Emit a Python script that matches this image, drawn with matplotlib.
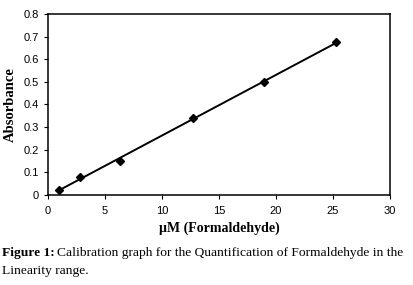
import matplotlib
matplotlib.use("Agg")
import matplotlib.pyplot as plt
import numpy as np

conc = [0.95, 2.85, 6.3, 12.7, 19.0, 25.3]
absorbance = [0.02, 0.08, 0.15, 0.34, 0.50, 0.675]
err = [0.008, 0.008, 0.008, 0.01, 0.01, 0.01]
xticks = [0, 5, 10, 15, 20, 25, 30]
yticks = [0, 0.1, 0.2, 0.3, 0.4, 0.5, 0.6, 0.7, 0.8]
ytick_labels = ["0", "0.1", "0.2", "0.3", "0.4", "0.5", "0.6", "0.7", "0.8"]

plt.rcParams['font.family'] = ['Liberation Serif', 'DejaVu Serif']

fig = plt.figure(figsize=(4.13, 2.85), dpi=100)
ax = fig.add_axes([0.116, 0.316, 0.828, 0.635])

x = np.array(conc)
y = np.array(absorbance)
m, b = np.polyfit(x, y, 1)
xl = np.array([x.min(), x.max()])
ax.plot(xl, m * xl + b, color='black', lw=1.4, zorder=2)
ax.errorbar(x, y, yerr=err, fmt='D', color='black', ms=3.8, capsize=0,
            elinewidth=1.0, zorder=3)

ax.set_xlim(0, 30)
ax.set_ylim(0, 0.8)
ax.set_xticks(xticks)
ax.set_yticks(yticks)
ax.set_yticklabels(ytick_labels)
ax.tick_params(direction='out', length=3, width=0.8, labelsize=8, pad=3.5)
for lab in ax.get_xticklabels() + ax.get_yticklabels():
    lab.set_family(['Liberation Sans', 'DejaVu Sans'])
ax.tick_params(axis='x', pad=5)
for s in ax.spines.values():
    s.set_linewidth(1.1)
ax.set_xlabel('µM (Formaldehyde)', fontsize=10, fontweight='bold', labelpad=4)
ax.set_ylabel('Absorbance', fontsize=10.5, fontweight='bold', labelpad=5)

fig.text(0.005, 1 - 253 / 285, 'Figure 1:', fontsize=9.7, fontweight='bold', va='center')
fig.text(0.137, 1 - 253 / 285, 'Calibration graph for the Quantification of Formaldehyde in the',
         fontsize=9.7, va='center')
fig.text(0.005, 1 - 271 / 285, 'Linearity range.', fontsize=9.7, va='center')

fig.savefig('out.png', dpi=100)
